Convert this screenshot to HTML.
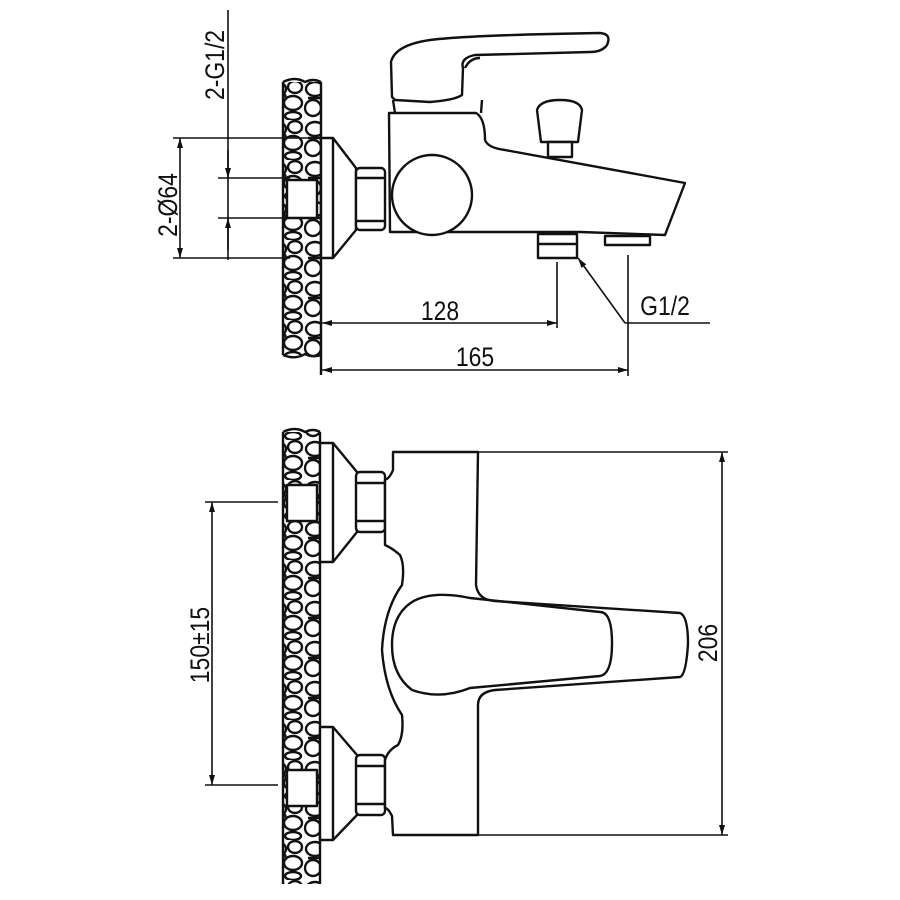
<!DOCTYPE html>
<html><head><meta charset="utf-8"><style>html,body{margin:0;padding:0;background:#fff}svg{display:block}</style></head>
<body>
<svg width="900" height="900" viewBox="0 0 900 900" xmlns="http://www.w3.org/2000/svg">
<defs>
<pattern id="stones" x="0" y="0" width="38" height="40" patternUnits="userSpaceOnUse">
<rect width="38" height="40" fill="#fff"/>
<g fill="none" stroke="#111" stroke-width="2.4">
<ellipse cx="11" cy="9" rx="9" ry="7"/>
<ellipse cx="29" cy="7" rx="7" ry="6"/>
<ellipse cx="27" cy="23" rx="9" ry="7"/>
<ellipse cx="9" cy="28" rx="8" ry="8"/>
<ellipse cx="27" cy="36" rx="8" ry="4"/>
<path d="M19,14 L20,20 M4,18 L17,18"/>
</g>
</pattern>
<marker id="ar" viewBox="0 0 10 10" refX="10" refY="5" markerWidth="12" markerHeight="10" orient="auto-start-reverse" markerUnits="userSpaceOnUse">
<path d="M0,2 L10,5 L0,8 Z" fill="#111"/>
</marker>
</defs>
<g fill="none" stroke="#111" stroke-width="2.4" stroke-linejoin="round">
<!-- TOP VIEW -->
<rect x="283" y="82" width="38" height="273" fill="url(#stones)" stroke="none"/>
<path d="M283,82 Q295,76 305,82 Q313,78 321,82"/>
<path d="M283,82 L283,355"/><path d="M321,82 L321,375"/>
<path d="M283,355 Q295,360 305,354 Q313,358 321,355"/>
<rect x="287" y="180" width="30" height="38" fill="#fff"/>
<path d="M321,138 L333,138 L356,168 L356,230 L333,258 L321,258 Z" fill="#fff"/>
<path d="M333,138 L333,258"/>
<rect x="356" y="168" width="29" height="62" rx="4" fill="#fff"/>
<path d="M356,178 L385,178 M356,221 L385,221"/>
<!-- body -->
<path d="M389,113 L476,113 Q485,118 485,140 Q488,148 505,150 L685,183 L665,235 L580,232 L460,232 L390,232 L389,113 Z" fill="#fff"/>
<circle cx="432" cy="195" r="40" fill="#fff"/>
<!-- lever -->
<path d="M392,97 L391,62 Q395,45 430,40 Q470,35 600,33 Q612,34 607,45 Q602,52 590,52 L475,55 Q460,58 463,68 L462,95 Q455,100 430,102 L395,100 Z" fill="#fff"/>
<path d="M393,100 L395,113 M482,100 L481,113"/>
<path d="M465,68 Q470,58 480,58"/>
<!-- diverter -->
<path d="M537,110 Q540,100 560,100 Q580,100 582,110 L578,142 L541,142 Z" fill="#fff"/>
<rect x="548" y="142" width="24" height="15" fill="#fff"/>
<!-- outlets -->
<rect x="538" y="234" width="39" height="24" fill="#fff"/>
<path d="M538,244 L577,244"/>
<rect x="605" y="236" width="45" height="9" fill="#fff"/>
<!-- dimensions top -->
<g stroke-width="1.6">
<path d="M228,10 L228,260"/>
<path d="M218,178 L290,178 M218,218 L290,218"/>
<path d="M228,150 L228,178" marker-end="url(#ar)"/>
<path d="M228,250 L228,218" marker-end="url(#ar)"/>
<path d="M173,138 L330,138 M173,258 L290,258"/>
<path d="M180,138 L180,258" marker-start="url(#ar)" marker-end="url(#ar)"/>
<path d="M557,262 L557,328 M628,255 L628,376"/>
<path d="M322,323 L557,323" marker-start="url(#ar)" marker-end="url(#ar)"/>
<path d="M322,370 L628,370" marker-start="url(#ar)" marker-end="url(#ar)"/>
<path d="M625,323 L710,323"/>
<path d="M625,323 L578,258" marker-end="url(#ar)"/>
</g>
<!-- BOTTOM VIEW -->
<rect x="283" y="432" width="37" height="452" fill="url(#stones)" stroke="none"/>
<path d="M283,432 Q295,426 305,432 Q313,428 320,432"/>
<path d="M283,432 L283,884"/><path d="M320,432 L320,884"/>
<rect x="287" y="485" width="30" height="36" fill="#fff"/>
<rect x="287" y="770" width="30" height="36" fill="#fff"/>
<path d="M320,443 L333,443 L357,472 L357,532 L333,562 L320,562 Z" fill="#fff"/>
<path d="M320,727 L333,727 L357,755 L357,815 L333,840 L320,840 Z" fill="#fff"/>
<path d="M333,443 L333,562 M333,727 L333,840"/>
<rect x="356" y="472" width="29" height="60" rx="4" fill="#fff"/>
<path d="M356,483 L385,483 M356,521 L385,521"/>
<rect x="356" y="755" width="29" height="60" rx="4" fill="#fff"/>
<path d="M356,766 L385,766 M356,804 L385,804"/>
<path d="M393,452 L478,452 L476,585 Q478,600 495,601 L680,613 Q688,616 688,644 Q686,675 680,677 L495,690 Q478,692 478,705 L478,835 L393,835 L392,816 Q388,808 385,808 L385,760 Q388,750 398,745 Q404,735 402,715 Q385,690 382,650 Q384,610 402,585 Q405,565 400,555 Q392,548 385,545 L385,480 Q390,478 393,470 Z" fill="#fff"/>
<path d="M412,602 Q432,590 470,598 L600,612 Q612,612 612,643 Q612,674 600,676 L470,688 Q440,700 412,690 Q392,675 392,645 Q392,615 412,602 Z"/>
<g stroke-width="1.6">
<path d="M478,452 L728,452 M478,835 L728,835"/>
<path d="M722,452 L722,835" marker-start="url(#ar)" marker-end="url(#ar)"/>
<path d="M205,502 L278,502 M205,785 L278,785"/>
<path d="M212,502 L212,785" marker-start="url(#ar)" marker-end="url(#ar)"/>
</g>
</g>
<g font-family="Liberation Sans, sans-serif" font-size="27" fill="#111">
<text transform="translate(440,320) scale(0.85,1)" text-anchor="middle">128</text>
<text transform="translate(475,366) scale(0.85,1)" text-anchor="middle">165</text>
<text transform="translate(665,315) scale(0.85,1)" text-anchor="middle">G1/2</text>
<text transform="translate(224,65) rotate(-90) scale(0.85,1)" text-anchor="middle">2-G1/2</text>
<text transform="translate(177,205) rotate(-90) scale(0.85,1)" text-anchor="middle">2-Ø64</text>
<text transform="translate(209,645) rotate(-90) scale(0.85,1)" text-anchor="middle">150±15</text>
<text transform="translate(717,643) rotate(-90) scale(0.85,1)" text-anchor="middle">206</text>
</g>
</svg>
</body></html>
